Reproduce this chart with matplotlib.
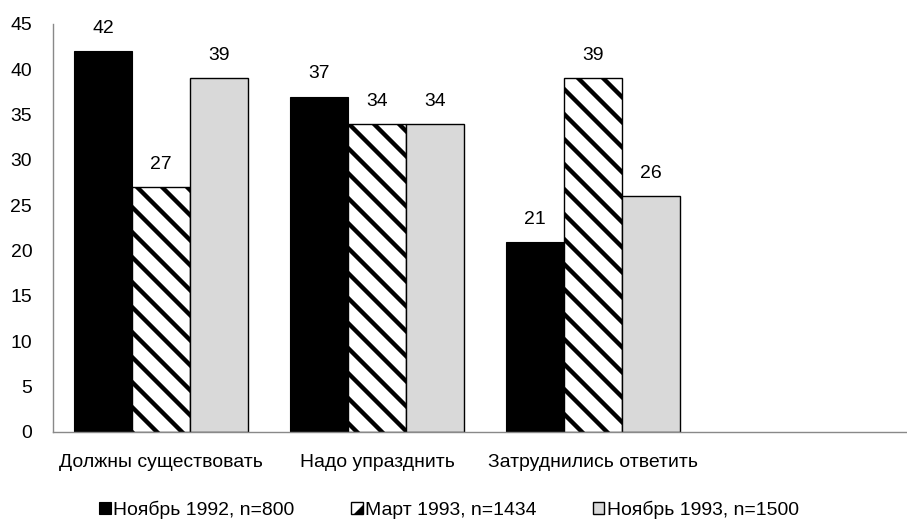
import numpy as np
import matplotlib
matplotlib.use("Agg")
import matplotlib.pyplot as plt
from matplotlib.patches import Rectangle, Polygon
from matplotlib.legend_handler import HandlerBase

categories = ["Должны существовать", "Надо упразднить", "Затруднились ответить", ""]
series_names = ["Ноябрь 1992, n=800", "Март 1993, n=1434", "Ноябрь 1993, n=1500"]
nov_1992 = [42, 37, 21]
mar_1993 = [27, 34, 39]
nov_1993 = [39, 34, 26]
y_ticks = [0, 5, 10, 15, 20, 25, 30, 35, 40, 45]

# rendered at dpi 75 so the hatch spacing comes out near the original; point sizes scaled up
DPI = 75
K = 100 / DPI
FS = 14 * K

plt.rcParams["font.family"] = ["Liberation Sans", "DejaVu Sans"]
plt.rcParams["hatch.linewidth"] = 4.2


class HatchSquare(HandlerBase):
    # small square with the lower-right half black, like the Excel legend key
    def create_artists(self, legend, orig_handle, xdescent, ydescent, width, height, fontsize, trans):
        x0, y0 = -xdescent, -ydescent
        bg = Rectangle((x0, y0), width, height, facecolor="white", edgecolor="none", transform=trans)
        tri = Polygon([[x0 + width * 0.25, y0], [x0 + width, y0], [x0 + width, y0 + height * 0.75]],
                      closed=True, facecolor="black", edgecolor="none", transform=trans)
        sq = Rectangle((x0, y0), width, height, facecolor="none", edgecolor="black",
                       linewidth=1.0 * K, transform=trans)
        return [bg, tri, sq]


fig = plt.figure(figsize=(907 / DPI, 526 / DPI), dpi=DPI)
ax = fig.add_axes([53 / 907, 94 / 526, 864 / 907, 408 / 526])

width = 0.2685
styles = [
    dict(color="black", edgecolor="black", linewidth=0.8 * K),
    dict(color="white", edgecolor="black", linewidth=1.0 * K, hatch="\\"),
    dict(color="#d9d9d9", edgecolor="black", linewidth=1.0 * K),
]
x = np.arange(3)
handles = []
for i, (vals, st) in enumerate(zip([nov_1992, mar_1993, nov_1993], styles)):
    bars = ax.bar(x + (i - 1) * width, vals, width, **st)
    handles.append(bars)
    for b, v in zip(bars, vals):
        ax.annotate(str(v), (b.get_x() + b.get_width() / 2, v), xytext=(0, 13 * K),
                    textcoords="offset points", ha="center", va="baseline", fontsize=FS)

ax.set_xlim(-0.5, 3.5)
ax.set_ylim(0, 45)
ax.set_yticks(y_ticks)
ax.set_xticks(range(4))
ax.set_xticklabels(categories)
ax.tick_params(axis="both", length=0, labelsize=FS)
ax.tick_params(axis="y", pad=15 * K)
ax.tick_params(axis="x", pad=16 * K)
for s in ["top", "right"]:
    ax.spines[s].set_visible(False)
for s in ["left", "bottom"]:
    ax.spines[s].set_color("#898989")
    ax.spines[s].set_linewidth(1.0 * K)

fig.legend(handles, series_names, loc="center", bbox_to_anchor=(0.495, 1 - 510 / 526), ncol=3,
           frameon=False, fontsize=FS, handlelength=0.6, handleheight=0.6, handletextpad=0.12,
           columnspacing=2.9, handler_map={handles[1]: HatchSquare()})

fig.savefig("out.png", dpi=DPI)
